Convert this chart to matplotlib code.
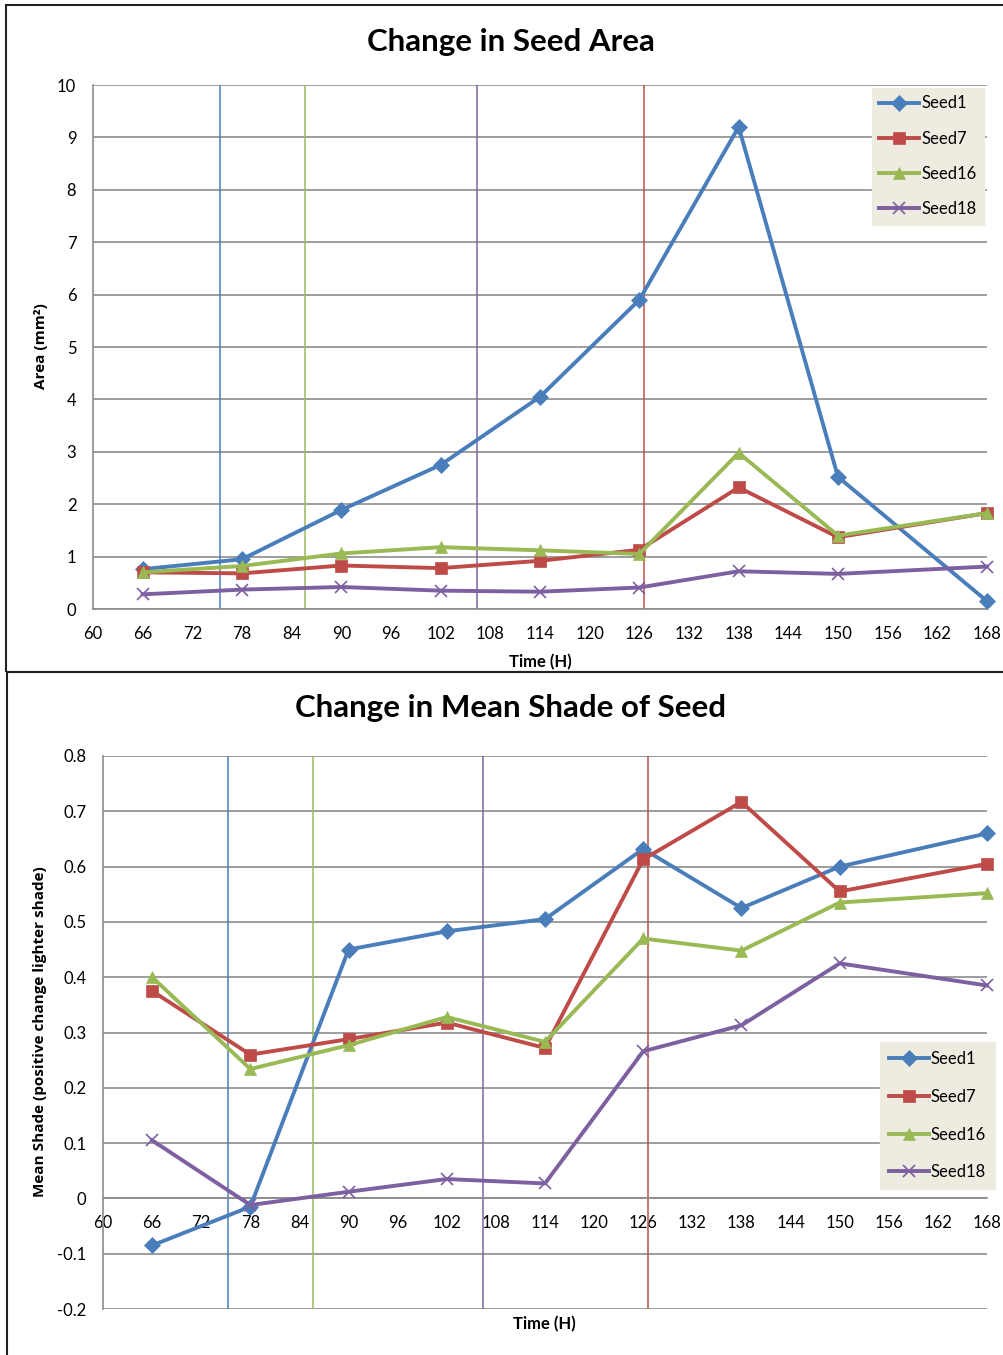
import matplotlib
matplotlib.use("Agg")
import matplotlib.pyplot as plt
from matplotlib.patches import Rectangle

plt.rcParams['font.family'] = ['Lato', 'DejaVu Sans']

hours = [66, 78, 90, 102, 114, 126, 138, 150, 168]
series_names = ["Seed1", "Seed7", "Seed16", "Seed18"]

area_seed1 = [0.76, 0.95, 1.89, 2.75, 4.05, 5.90, 9.20, 2.52, 0.15]
area_seed7 = [0.70, 0.68, 0.83, 0.78, 0.92, 1.13, 2.32, 1.37, 1.83]
area_seed16 = [0.70, 0.82, 1.06, 1.18, 1.12, 1.05, 2.98, 1.40, 1.83]
area_seed18 = [0.28, 0.37, 0.42, 0.35, 0.33, 0.41, 0.72, 0.67, 0.81]

shade_seed1 = [-0.085, -0.015, 0.450, 0.483, 0.505, 0.632, 0.525, 0.600, 0.660]
shade_seed7 = [0.375, 0.260, 0.288, 0.318, 0.272, 0.613, 0.717, 0.555, 0.605]
shade_seed16 = [0.400, 0.234, 0.277, 0.328, 0.283, 0.470, 0.448, 0.535, 0.552]
shade_seed18 = [0.105, -0.012, 0.012, 0.035, 0.027, 0.266, 0.313, 0.425, 0.385]

event_hours = [75.3, 85.6, 106.4, 126.6]
x_ticks = list(range(60, 169, 6))

colors = ["#4A7EBB", "#BE4B48", "#98B954", "#7D60A0"]
event_colors = ["#4A7EBB", "#9BBB59", "#8064A2", "#C0504D"]
markers = ["D", "s", "^", "x"]
msizes = [8, 9, 9, 9]
grid_color = "#8C8C8C"

fig = plt.figure(figsize=(10.04, 13.55), dpi=100)
W, H = 1004, 1355

def fx(px):
    return px / W

def fy(py):
    return 1 - py / H

# panel borders
fig.patches.append(Rectangle((fx(6), fy(672)), fx(1010 - 6), fy(5) - fy(672),
                             transform=fig.transFigure, fill=False, lw=1.5, ec="#222222"))
fig.patches.append(Rectangle((fx(7), fy(1362)), fx(1010 - 7), fy(672) - fy(1362),
                             transform=fig.transFigure, fill=False, lw=1.5, ec="#222222"))


def style_axes(ax, ymin, ymax, ystep, yfmt):
    ax.set_xlim(60, 168)
    ax.set_ylim(ymin, ymax)
    ax.set_xticks(x_ticks)
    ax.set_xticklabels([str(t) for t in x_ticks])
    n = int(round((ymax - ymin) / ystep))
    yt = [ymin + i * ystep for i in range(n + 1)]
    ax.set_yticks(yt)
    ax.set_yticklabels([yfmt(v) for v in yt])
    ax.yaxis.grid(True, color=grid_color, lw=1.2)
    ax.set_axisbelow(True)
    for s in ["top", "right"]:
        ax.spines[s].set_visible(False)
    ax.spines["left"].set_color(grid_color)
    ax.spines["bottom"].set_color(grid_color)
    ax.spines["left"].set_linewidth(1.2)
    ax.spines["bottom"].set_linewidth(1.2)
    ax.tick_params(axis="both", length=0, labelsize=12, colors="black")
    ax.tick_params(axis="y", pad=12)
    ax.tick_params(axis="x", pad=12)


def style_legend(leg):
    fr = leg.get_frame()
    fr.set_facecolor("#EEECE1")
    fr.set_edgecolor("#EEECE1")
    fr.set_alpha(1)


ylab_font = dict(family=['Open Sans', 'DejaVu Sans'], fontsize=11, fontweight="bold")

# ---------- top panel ----------
ax1 = fig.add_axes([fx(93), fy(609), fx(987 - 93), fy(85) - fy(609)])
style_axes(ax1, 0, 10, 1, lambda v: f"{v:g}")
for h, c in zip(event_hours, event_colors):
    ax1.axvline(h, color=c, lw=1.1, zorder=1.5)
for vals, name, c, m, ms in zip([area_seed1, area_seed7, area_seed16, area_seed18],
                                series_names, colors, markers, msizes):
    ax1.plot(hours, vals, color=c, lw=2.8, marker=m, ms=ms, mew=1.2 if m == "x" else 0.5,
             mec=c, label=name, zorder=3, clip_on=False)
leg1 = ax1.legend(loc="upper left",
                  bbox_to_anchor=(fx(872 - 93) / fx(987 - 93), (fy(88) - fy(609)) / (fy(85) - fy(609))),
                  frameon=True, fancybox=False, fontsize=12, handlelength=2.4,
                  handletextpad=0.1, labelspacing=1.15, borderpad=0.45, borderaxespad=0.0)
style_legend(leg1)
fig.text(fx(511), fy(42), "Change in Seed Area", ha="center", va="center",
         fontsize=22.5, fontweight="bold")
fig.text(fx(41), fy(346), "Area (mm\u00b2)", ha="center", va="center", rotation=90, **ylab_font)
fig.text(fx(540), fy(662), "Time (H)", ha="center", va="center",
         fontsize=12, fontweight="bold")

# ---------- bottom panel ----------
ax2 = fig.add_axes([fx(103), fy(1309), fx(987 - 103), fy(756) - fy(1309)])
style_axes(ax2, -0.2, 0.8, 0.1, lambda v: "0" if abs(v) < 1e-9 else f"{v:.1f}")
ax2.spines["bottom"].set_position(("data", 0))
for h, c in zip(event_hours, event_colors):
    ax2.axvline(h, color=c, lw=1.1, zorder=1.5)
for vals, name, c, m, ms in zip([shade_seed1, shade_seed7, shade_seed16, shade_seed18],
                                series_names, colors, markers, msizes):
    ax2.plot(hours, vals, color=c, lw=2.8, marker=m, ms=ms, mew=1.2 if m == "x" else 0.5,
             mec=c, label=name, zorder=3, clip_on=False)
leg2 = ax2.legend(loc="upper left",
                  bbox_to_anchor=(fx(880 - 103) / fx(987 - 103), (fy(1042) - fy(1309)) / (fy(756) - fy(1309))),
                  frameon=True, fancybox=False, fontsize=12, handlelength=2.4,
                  handletextpad=0.1, labelspacing=1.3, borderpad=0.55, borderaxespad=0.0)
style_legend(leg2)
fig.text(fx(511), fy(708), "Change in Mean Shade of Seed", ha="center", va="center",
         fontsize=22.5, fontweight="bold")
fig.text(fx(40), fy(1032), "Mean Shade (positive change lighter shade)", ha="center",
         va="center", rotation=90, **ylab_font)
fig.text(fx(544), fy(1324), "Time (H)", ha="center", va="center",
         fontsize=12, fontweight="bold")

fig.savefig("out.png", dpi=100)
